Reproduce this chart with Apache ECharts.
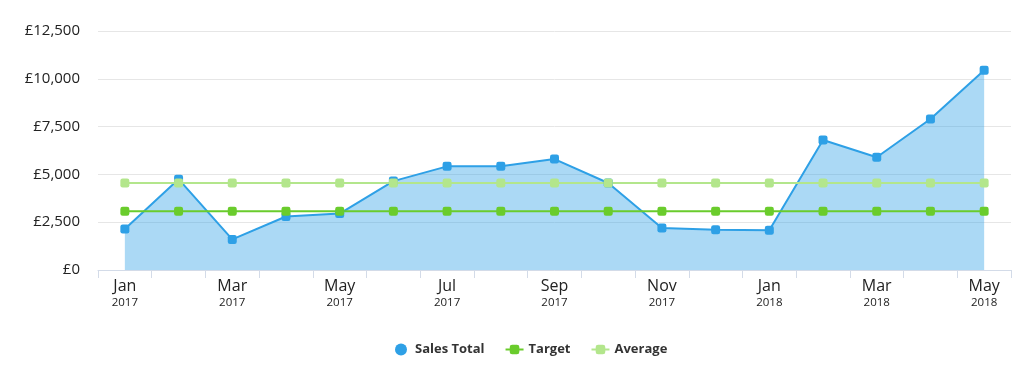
<!DOCTYPE html>
<html>
<head>
<meta charset="utf-8">
<script src="https://cdn.jsdelivr.net/npm/echarts@6/dist/echarts.min.js"></script>
<style>html,body{margin:0;padding:0;background:#fff}#c{width:1024px;height:371px}</style>
</head>
<body>
<div id="c"></div>
<script>
const months = ['Jan','Feb','Mar','Apr','May','Jun','Jul','Aug','Sep','Oct','Nov','Dec','Jan','Feb','Mar','Apr','May'];
const years = ['2017','2017','2017','2017','2017','2017','2017','2017','2017','2017','2017','2017','2018','2018','2018','2018','2018'];
const salesTotal = [2150, 4750, 1600, 2800, 2950, 4650, 5420, 5430, 5800, 4550, 2200, 2100, 2080, 6800, 5900, 7900, 10450];
const target = [3070, 3070, 3070, 3070, 3070, 3070, 3070, 3070, 3070, 3070, 3070, 3070, 3070, 3070, 3070, 3070, 3070];
const average = [4550, 4550, 4550, 4550, 4550, 4550, 4550, 4550, 4550, 4550, 4550, 4550, 4550, 4550, 4550, 4550, 4550];
const categories = months.map((m, i) => m + '\n' + years[i]);

const chart = echarts.init(document.getElementById('c'), null, {renderer: 'canvas'});
const font = '"Open Sans", "Liberation Sans", sans-serif';
chart.setOption({
  animation: false,
  textStyle: {fontFamily: font},
  grid: {left: 98, right: 13, top: 31, bottom: 101},
  legend: {
    bottom: 10,
    left: 390,
    itemWidth: 18,
    itemHeight: 12,
    itemGap: 20,
    textStyle: {fontFamily: font, fontSize: 13, fontWeight: 'bold', color: '#333'},
    data: [
      {name: 'Sales Total', icon: 'circle'},
      {name: 'Target'},
      {name: 'Average'}
    ]
  },
  xAxis: {
    type: 'category',
    data: categories,
    boundaryGap: true,
    axisLine: {lineStyle: {color: '#d3dbe8', width: 1}},
    axisTick: {show: true, interval: 0, length: 8, lineStyle: {color: '#d3dbe8'}},
    axisLabel: {
      interval: 1,
      margin: 7,
      formatter: function (v) {
        const p = v.split('\n');
        return '{m|' + p[0] + '}\n{y|' + p[1] + '}';
      },
      rich: {
        m: {fontSize: 16, color: '#222', fontFamily: font, lineHeight: 19},
        y: {fontSize: 11.5, color: '#222', fontFamily: font, lineHeight: 14}
      }
    }
  },
  yAxis: {
    type: 'value',
    min: 0,
    max: 12500,
    interval: 2500,
    axisLine: {show: false},
    axisTick: {show: false},
    splitLine: {lineStyle: {color: '#e6e6e6'}},
    axisLabel: {
      margin: 18,
      fontSize: 15,
      color: '#222',
      fontFamily: font,
      formatter: function (v) { return '£' + v.toLocaleString('en-GB'); }
    }
  },
  series: [
    {
      name: 'Sales Total',
      type: 'line',
      data: salesTotal,
      symbol: 'roundRect',
      symbolSize: 9,
      lineStyle: {width: 2, color: '#2ea0e6'},
      itemStyle: {color: '#2ea0e6'},
      areaStyle: {color: '#2ea0e6', opacity: 0.4}
    },
    {
      name: 'Target',
      type: 'line',
      data: target,
      symbol: 'roundRect',
      symbolSize: 9,
      lineStyle: {width: 2, color: '#6acc2c'},
      itemStyle: {color: '#6acc2c'}
    },
    {
      name: 'Average',
      type: 'line',
      data: average,
      symbol: 'roundRect',
      symbolSize: 9,
      lineStyle: {width: 2, color: '#b3e68c'},
      itemStyle: {color: '#b3e68c'}
    }
  ]
});
</script>
</body>
</html>
